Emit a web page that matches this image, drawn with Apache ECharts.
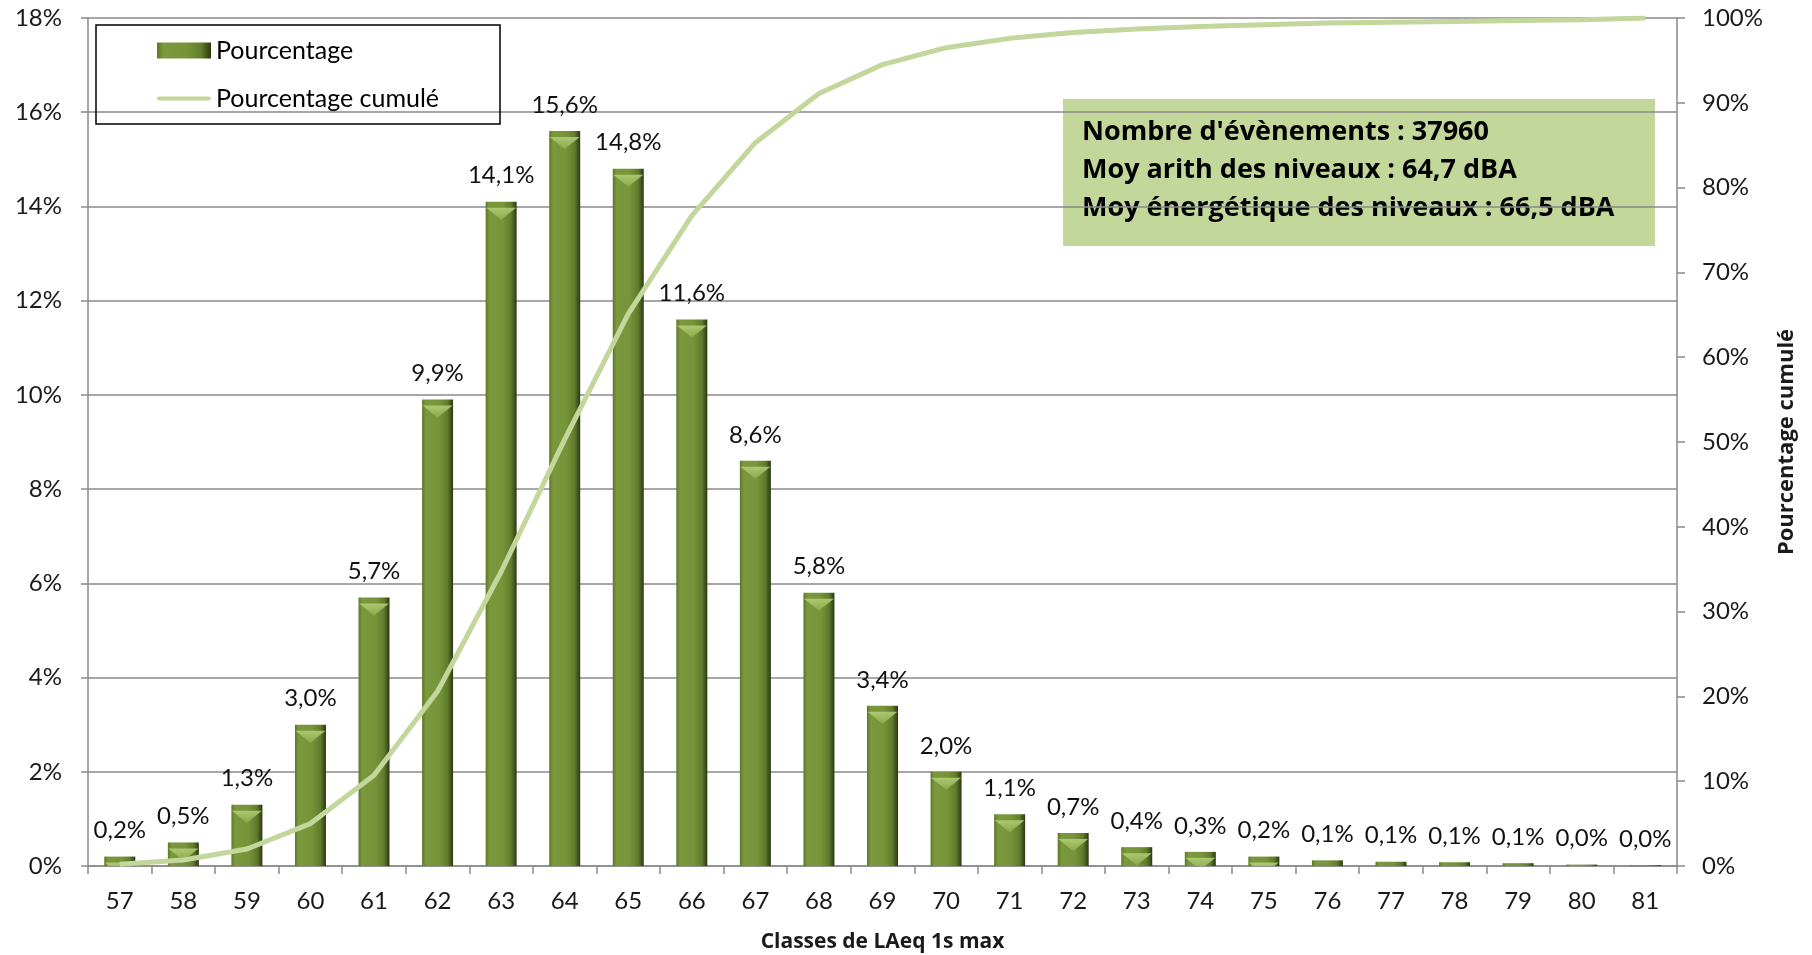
<!DOCTYPE html>
<html>
<head>
<meta charset="utf-8">
<script src="https://cdn.jsdelivr.net/npm/echarts@6/dist/echarts.min.js"></script>
<style>
html,body{margin:0;padding:0;background:#fff;}
#chart{width:1812px;height:955px;}
</style>
</head>
<body>
<div id="chart"></div>
<script>
// ---- data ----
const categories = ['57','58','59','60','61','62','63','64','65','66','67','68','69','70','71','72','73','74','75','76','77','78','79','80','81'];
const pourcentage = [0.2, 0.5, 1.3, 3.0, 5.7, 9.9, 14.1, 15.6, 14.8, 11.6, 8.6, 5.8, 3.4, 2.0, 1.1, 0.7, 0.4, 0.3, 0.2, 0.12, 0.09, 0.08, 0.06, 0.03, 0.02];
const pourcentageCumule = [0.2, 0.7, 2.0, 5.0, 10.7, 20.6, 34.7, 50.3, 65.1, 76.7, 85.3, 91.1, 94.5, 96.5, 97.6, 98.3, 98.7, 99.0, 99.2, 99.4, 99.5, 99.6, 99.7, 99.8, 100.0];
const leftTicks = { min: 0, max: 18, interval: 2 };
const rightTicks = { min: 0, max: 100, interval: 10 };
const infoLines = [
  "Nombre d'évènements : 37960",
  "Moy arith des niveaux : 64,7 dBA",
  "Moy énergétique des niveaux : 66,5 dBA"
];
const seriesNames = ['Pourcentage', 'Pourcentage cumulé'];
const xAxisTitle = 'Classes de LAeq 1s max';
const rightAxisTitle = 'Pourcentage cumulé';

// ---- chart ----
const FONT = 'Lato, "DejaVu Sans", sans-serif';
const BOLD_FONT = '"Open Sans", Lato, sans-serif';
const AXIS_GRAY = '#8a8a8a';
const chart = echarts.init(document.getElementById('chart'), null, { renderer: 'canvas' });

const barGradient = new echarts.graphic.LinearGradient(0, 0, 1, 0, [
  { offset: 0, color: '#5c7829' },
  { offset: 0.12, color: '#7a983c' },
  { offset: 0.55, color: '#77943a' },
  { offset: 0.82, color: '#607c2c' },
  { offset: 1, color: '#2a380f' }
]);
const bevelGradient = new echarts.graphic.LinearGradient(0, 0, 0, 1, [
  { offset: 0, color: '#b7d17a' },
  { offset: 1, color: '#8fae4e' }
]);

const fmt = v => v.toFixed(1).replace('.', ',') + '%';

const option = {
  backgroundColor: '#ffffff',
  animation: false,
  textStyle: { fontFamily: FONT },
  grid: { left: 88, right: 135, top: 18, bottom: 89, containLabel: false, outerBoundsMode: 'none' },
  legend: {
    data: [
      { name: seriesNames[0], icon: 'rect' },
      { name: seriesNames[1], icon: 'path://M2,0 L98,0 A4,4 0 0 1 98,8 L2,8 A4,4 0 0 1 2,0 Z' }
    ],
    orient: 'vertical',
    left: 157,
    top: 38,
    padding: 0,
    itemWidth: 54,
    itemHeight: 16,
    itemGap: 23,
    textStyle: { fontFamily: FONT, fontSize: 25, color: '#000', lineHeight: 25 }
  },
  xAxis: {
    type: 'category',
    data: categories,
    name: xAxisTitle,
    nameLocation: 'middle',
    nameGap: 66,
    nameTextStyle: { fontFamily: BOLD_FONT, fontSize: 21, fontWeight: 'bold', color: '#1a1a1a' },
    axisLine: { lineStyle: { color: AXIS_GRAY, width: 1.5 } },
    axisTick: { show: true, length: 8, lineStyle: { color: AXIS_GRAY, width: 1.5 } },
    axisLabel: { fontFamily: FONT, fontSize: 24, color: '#1a1a1a', margin: 23 }
  },
  yAxis: [
    {
      type: 'value',
      min: leftTicks.min, max: leftTicks.max, interval: leftTicks.interval,
      axisLine: { show: true, lineStyle: { color: AXIS_GRAY, width: 1.5 } },
      axisTick: { show: true, length: 7, lineStyle: { color: AXIS_GRAY, width: 1.5 } },
      axisLabel: { fontFamily: FONT, fontSize: 24, color: '#1a1a1a', margin: 26, formatter: '{value}%' },
      splitLine: { show: true, lineStyle: { color: AXIS_GRAY, width: 1.5 } }
    },
    {
      type: 'value',
      position: 'right',
      min: rightTicks.min, max: rightTicks.max, interval: rightTicks.interval,
      name: rightAxisTitle,
      nameLocation: 'middle',
      nameRotate: 90,
      nameGap: 99,
      nameTextStyle: { fontFamily: BOLD_FONT, fontSize: 22, fontWeight: 'bold', color: '#1a1a1a' },
      axisLine: { show: true, lineStyle: { color: AXIS_GRAY, width: 1.5 } },
      axisTick: { show: true, length: 8, lineStyle: { color: AXIS_GRAY, width: 1.5 } },
      axisLabel: { fontFamily: FONT, fontSize: 24, color: '#1a1a1a', margin: 25, formatter: '{value}%' },
      splitLine: { show: false }
    }
  ],
  series: [
    {
      name: seriesNames[0],
      type: 'bar',
      yAxisIndex: 0,
      data: pourcentage,
      barWidth: 31,
      itemStyle: { color: barGradient },
      label: {
        show: true,
        position: 'top',
        distance: 14,
        fontFamily: FONT,
        fontSize: 24,
        color: '#111',
        formatter: p => fmt(p.value)
      },
      z: 2
    },
    {
      name: 'bevel',
      type: 'pictorialBar',
      yAxisIndex: 0,
      data: pourcentage,
      symbol: 'path://M0,0 L10,0 L5,4 Z',
      symbolSize: [30, 12],
      symbolPosition: 'end',
      symbolOffset: [0, '50%'],
      symbolClip: true,
      itemStyle: { color: bevelGradient, opacity: 0.85 },
      silent: true,
      z: 3
    },
    {
      name: seriesNames[1],
      type: 'line',
      yAxisIndex: 1,
      data: pourcentageCumule,
      symbol: 'none',
      lineStyle: { color: '#c3d69b', width: 5 },
      itemStyle: { color: '#c3d69b' },
      z: 5
    }
  ],
  graphic: [
    {
      type: 'rect',
      shape: { x: 96, y: 25, width: 404, height: 99 },
      style: { fill: 'none', stroke: '#000', lineWidth: 1.5 },
      z: 10
    },
    {
      type: 'group',
      left: 1063,
      top: 99,
      z: 10,
      children: [
        { type: 'rect', shape: { x: 0, y: 0, width: 592, height: 147 }, style: { fill: '#c4d79b' } },
        { type: 'text', x: 19, y: 33, style: { text: infoLines[0], font: 'bold 27px ' + BOLD_FONT, fill: '#000', verticalAlign: 'middle' } },
        { type: 'text', x: 19, y: 71, style: { text: infoLines[1], font: 'bold 27px ' + BOLD_FONT, fill: '#000', verticalAlign: 'middle' } },
        { type: 'text', x: 19, y: 109, style: { text: infoLines[2], font: 'bold 27px ' + BOLD_FONT, fill: '#000', verticalAlign: 'middle' } }
      ]
    }
  ]
};
chart.setOption(option);
</script>
</body>
</html>
